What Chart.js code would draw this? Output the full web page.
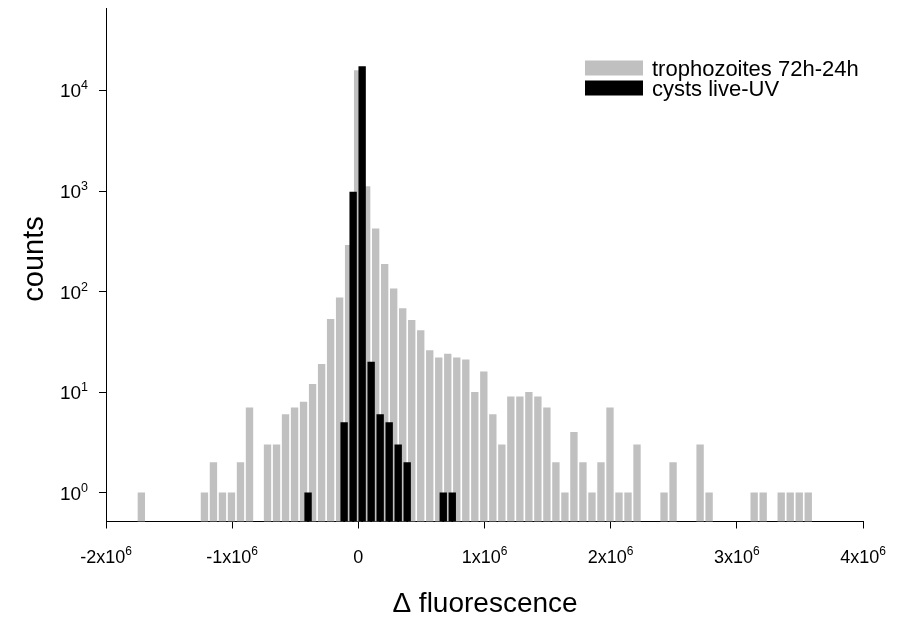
<!DOCTYPE html>
<html>
<head>
<meta charset="utf-8">
<script src="https://cdn.jsdelivr.net/npm/chart.js@4.4.1/dist/chart.umd.min.js"></script>
<style>
  html, body { margin: 0; padding: 0; background: #ffffff; }
  #wrap { width: 898px; height: 617px; }
</style>
</head>
<body>
<div id="wrap"><canvas id="chart" width="898" height="617"></canvas></div>
<script>
// Histogram layout: bin centre = BIN_ORIGIN + index * BIN_WIDTH
const BIN_WIDTH = 71430;
const BIN_ORIGIN = -5500;

// trophozoites 72h-24h (grey)
const trophoBins = [-24, -17, -16, -15, -14, -13, -12, -10, -9, -8, -7, -6, -5, -4, -3, -2, -1,
  0, 1, 2, 3, 4, 5, 6, 7, 8, 9, 10, 11, 12, 13, 14, 15, 16, 17, 18, 19, 20, 21, 22, 23, 24, 25,
  26, 27, 28, 29, 30, 31, 34, 35, 38, 39, 44, 45, 47, 48, 49, 50];
const trophoCounts = [1, 1, 2, 1, 1, 2, 7, 3, 3, 6, 7, 8, 12, 19, 53, 87, 289,
  15800, 1110, 421, 187, 107, 68, 52, 41, 26, 22, 24, 22, 21, 10, 16, 6, 3, 9, 9, 10, 9, 7, 2, 1, 4, 2,
  1, 2, 7, 1, 1, 3, 1, 2, 3, 1, 1, 1, 1, 1, 1, 1];

// cysts live-UV (black), bins shifted by half a bin
const cystBins = [-5.5, -1.5, -0.5, 0.5, 1.5, 2.5, 3.5, 4.5, 5.5, 9.5, 10.5];
const cystCounts = [1, 5, 980, 17300, 20, 6, 5, 3, 2, 1, 1];

// axes
const xTickValues = [-2e6, -1e6, 0, 1e6, 2e6, 3e6, 4e6];
const xTickBase = ['-2x10', '-1x10', '0', '1x10', '2x10', '3x10', '4x10'];
const xTickExp = ['6', '6', '', '6', '6', '6', '6'];
const yTickValues = [1, 10, 100, 1000, 10000];
const yTickBase = ['10', '10', '10', '10', '10'];
const yTickExp = ['0', '1', '2', '3', '4'];
const xTitle = '\u0394 fluorescence';
const yTitle = 'counts';

const FONT = "'Liberation Sans', Arial, sans-serif";

function toPoints(bins, counts) {
  return bins.map((b, i) => ({ x: BIN_ORIGIN + b * BIN_WIDTH, y: counts[i] }));
}

// draws tick labels with superscripts, axis titles and the legend
const annotate = {
  id: 'annotate',
  afterDraw(chart) {
    const ctx = chart.ctx;
    const xs = chart.scales.x, ys = chart.scales.y;
    ctx.save();
    ctx.fillStyle = '#000';
    ctx.textBaseline = 'alphabetic';
    ctx.textAlign = 'left';

    // x tick labels
    const xBaseFont = '18px ' + FONT;
    const xSupFont = '12px ' + FONT;
    xTickValues.forEach((v, i) => {
      const px = xs.getPixelForValue(v);
      ctx.font = xBaseFont;
      const wb = ctx.measureText(xTickBase[i]).width;
      ctx.font = xSupFont;
      const we = xTickExp[i] ? ctx.measureText(xTickExp[i]).width : 0;
      const x0 = px - (wb + we) / 2;
      ctx.font = xBaseFont;
      ctx.fillText(xTickBase[i], x0, 563);
      if (xTickExp[i]) {
        ctx.font = xSupFont;
        ctx.fillText(xTickExp[i], x0 + wb, 555);
      }
    });

    // y tick labels
    const yBaseFont = '19px ' + FONT;
    const ySupFont = '12.5px ' + FONT;
    yTickValues.forEach((v, i) => {
      const py = ys.getPixelForValue(v);
      ctx.font = ySupFont;
      const we = ctx.measureText(yTickExp[i]).width;
      ctx.font = yBaseFont;
      const wb = ctx.measureText(yTickBase[i]).width;
      const right = 88;
      ctx.fillText(yTickBase[i], right - we - wb, py + 7);
      ctx.font = ySupFont;
      ctx.fillText(yTickExp[i], right - we, py - 1);
    });

    // axis titles
    ctx.font = '28px ' + FONT;
    ctx.textAlign = 'center';
    ctx.fillText(xTitle, 485, 612);
    ctx.font = '29px ' + FONT;
    ctx.save();
    ctx.translate(43, 259);
    ctx.rotate(-Math.PI / 2);
    ctx.fillText(yTitle, 0, 0);
    ctx.restore();

    // legend
    ctx.textAlign = 'left';
    ctx.font = '22px ' + FONT;
    const items = chart.data.datasets.slice().reverse();
    items.forEach((ds, i) => {
      const cy = 68 + i * 20;
      ctx.fillStyle = ds.backgroundColor;
      ctx.fillRect(585, cy - 7.5, 58, 15);
      ctx.fillStyle = '#000';
      ctx.fillText(ds.label, 652, cy + 8);
    });
    ctx.restore();
  }
};

new Chart(document.getElementById('chart'), {
  type: 'bar',
  data: {
    datasets: [
      {
        label: 'cysts live-UV',
        data: toPoints(cystBins, cystCounts),
        backgroundColor: '#000000',
        order: 0,
        grouped: false,
        barThickness: 6.7
      },
      {
        label: 'trophozoites 72h-24h',
        data: toPoints(trophoBins, trophoCounts),
        backgroundColor: '#c0c0c0',
        order: 1,
        grouped: false,
        barThickness: 6.7
      }
    ]
  },
  options: {
    responsive: false,
    animation: false,
    devicePixelRatio: 1,
    layout: { padding: { top: 8, right: 35, left: 0, bottom: 0 } },
    plugins: { legend: { display: false }, tooltip: { enabled: false } },
    scales: {
      x: {
        type: 'linear',
        min: -2e6,
        max: 4e6,
        offset: false,
        afterBuildTicks: s => { s.ticks = xTickValues.map(v => ({ value: v })); },
        afterFit: s => { s.height = 95.5; },
        ticks: { display: false },
        grid: { display: true, offset: false, drawOnChartArea: false, drawTicks: true, tickLength: 7, color: '#000', tickWidth: 1 },
        border: { display: true, color: '#000', width: 1 }
      },
      y: {
        type: 'logarithmic',
        min: 0.52,
        max: 66000,
        afterBuildTicks: s => { s.ticks = yTickValues.map(v => ({ value: v })); },
        afterFit: s => { s.width = 106; },
        ticks: { display: false },
        grid: { display: true, drawOnChartArea: false, drawTicks: true, tickLength: 7, color: '#000', tickWidth: 1 },
        border: { display: true, color: '#000', width: 1 }
      }
    }
  },
  plugins: [annotate]
});
</script>
</body>
</html>
